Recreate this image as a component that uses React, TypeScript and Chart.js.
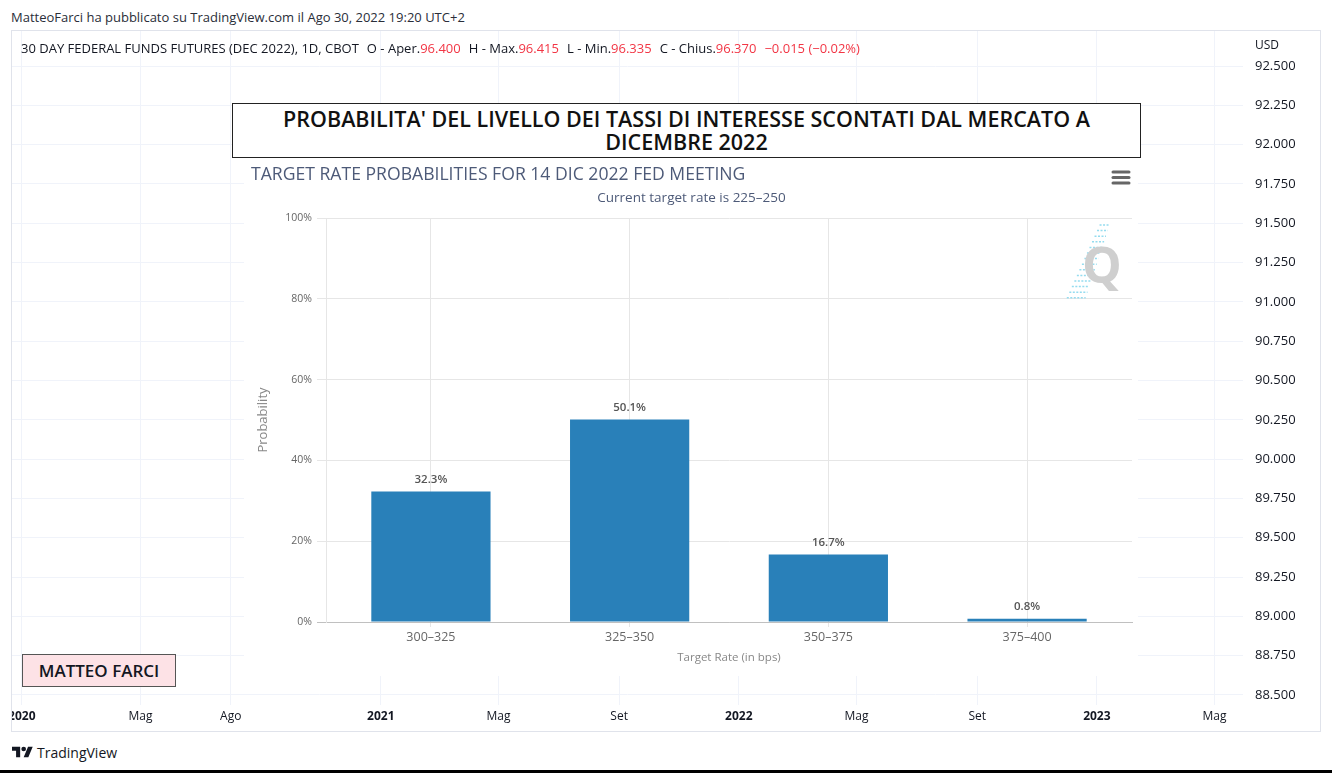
import React, { useEffect, useRef } from 'react';
import { Chart, registerables } from 'chart.js';

Chart.register(...registerables);

const FONT = "'Open Sans', 'DejaVu Sans', sans-serif";
Chart.defaults.font.family = FONT;

// ---------- FedWatch bar chart data ----------
const categories = ['300–325', '325–350', '350–375', '375–400'];
const probabilities = [32.3, 50.1, 16.7, 0.8];
const probabilityTicks = [0, 20, 40, 60, 80, 100];
const fedTitle = 'TARGET RATE PROBABILITIES FOR 14 DIC 2022 FED MEETING';
const fedSubtitle = 'Current target rate is 225–250';
const xAxisTitle = 'Target Rate (in bps)';
const yAxisTitle = 'Probability';

// ---------- TradingView background data ----------
const priceTicks = [88.5, 88.75, 89, 89.25, 89.5, 89.75, 90, 90.25, 90.5, 90.75, 91, 91.25, 91.5, 91.75, 92, 92.25, 92.5];
const priceRange = [88.436, 92.723];
const timeTickDates = ['2020-01-01', '2020-05-01', '2020-08-01', '2021-01-01', '2021-05-01', '2021-09-01', '2022-01-01', '2022-05-01', '2022-09-01', '2023-01-01', '2023-05-01'];
const timeTickLabels = ['2020', 'Mag', 'Ago', '2021', 'Mag', 'Set', '2022', 'Mag', 'Set', '2023', 'Mag'];
const timeRange = ['2019-12-22', '2023-05-30'];
const publishLine = 'MatteoFarci ha pubblicato su TradingView.com il Ago 30, 2022 19:20 UTC+2';
const symbolName = '30 DAY FEDERAL FUNDS FUTURES (DEC 2022), 1D, CBOT';
const ohlcLabels = ['O - Aper.', 'H - Max.', 'L - Min.', 'C - Chius.'];
const ohlcValues = ['96.400', '96.415', '96.335', '96.370'];
const changeText = '−0.015 (−0.02%)';
const currency = 'USD';
const bigTitleLines = ["PROBABILITA' DEL LIVELLO DEI TASSI DI INTERESSE SCONTATI DAL MERCATO A", 'DICEMBRE 2022'];
const signature = 'MATTEO FARCI';

const RED = '#f23645';
const TV_TEXT = '#131722';
const BAR_BLUE = '#2980b9';

const dayIndex = (iso: string) => (Date.parse(iso) - Date.parse('2020-01-01')) / 86400000;

function TvBackground() {
  const ref = useRef<HTMLCanvasElement>(null);
  useEffect(() => {
    const chart = new Chart(ref.current as HTMLCanvasElement, {
      type: 'scatter',
      data: { datasets: [{ data: [] }] },
      options: {
        animation: false,
        responsive: false,
        events: [],
        layout: { padding: 0 },
        plugins: { legend: { display: false }, tooltip: { enabled: false } },
        scales: {
          x: {
            type: 'linear',
            min: dayIndex(timeRange[0]),
            max: dayIndex(timeRange[1]),
            afterBuildTicks: (s: any) => {
              s.ticks = timeTickDates.map((d) => ({ value: dayIndex(d) }));
            },
            afterFit: (s: any) => {
              s.height = 26;
              s.paddingLeft = 0;
              s.paddingRight = 0;
            },
            grid: { color: '#f0f3fa', drawTicks: false },
            border: { display: false },
            ticks: {
              autoSkip: false,
              maxRotation: 0,
              padding: 4,
              color: TV_TEXT,
              font: (ctx: any) => ({
                family: FONT,
                size: 12,
                weight: /^\d{4}$/.test(timeTickLabels[ctx.index] || '') ? 'bold' : 'normal',
              }),
              callback: (_v: any, i: number) => timeTickLabels[i],
            },
          },
          y: {
            type: 'linear',
            position: 'right',
            min: priceRange[0],
            max: priceRange[1],
            afterBuildTicks: (s: any) => {
              s.ticks = priceTicks.map((v) => ({ value: v }));
            },
            afterFit: (s: any) => {
              s.width = 77;
              s.paddingTop = 0;
              s.paddingBottom = 0;
            },
            grid: { color: '#f0f3fa', drawTicks: false },
            border: { display: false },
            ticks: {
              padding: 12,
              color: TV_TEXT,
              font: { family: FONT, size: 13 },
              callback: (v: any) => Number(v).toFixed(3),
            },
          },
        },
      } as any,
    });
    return () => chart.destroy();
  }, []);
  return <canvas ref={ref} width={1308} height={700} style={{ position: 'absolute', left: 12, top: 31 }} />;
}

const valueLabels = {
  id: 'valueLabels',
  afterDatasetsDraw(chart: any) {
    const ctx = chart.ctx;
    const meta = chart.getDatasetMeta(0);
    ctx.save();
    ctx.font = `600 11.5px ${FONT}`;
    ctx.fillStyle = '#555555';
    ctx.textAlign = 'center';
    ctx.textBaseline = 'middle';
    meta.data.forEach((bar: any, i: number) => {
      ctx.fillText(probabilities[i].toFixed(1) + '%', bar.x, bar.y - 12);
    });
    ctx.restore();
  },
};

const decorations = {
  id: 'decorations',
  afterDraw(chart: any) {
    const ctx = chart.ctx;
    ctx.save();
    // menu icon
    ctx.strokeStyle = '#666666';
    ctx.lineWidth = 3;
    ctx.lineCap = 'round';
    [15, 20.5, 26].forEach((y) => {
      ctx.beginPath();
      ctx.moveTo(869, y);
      ctx.lineTo(885, y);
      ctx.stroke();
    });
    // watermark speed lines (canvas coords = page - (244, 157))
    ctx.strokeStyle = '#95dcef';
    ctx.lineWidth = 1.5;
    ctx.lineCap = 'butt';
    ctx.setLineDash([2, 1.5]);
    for (let k = 0; k < 14; k++) {
      const y = 68 + k * 5.6;
      const left = 856 - (y - 67) * 0.45;
      const right = left + 10 + (y - 67) * 0.12;
      ctx.beginPath();
      ctx.moveTo(left, y);
      ctx.lineTo(right, y);
      ctx.stroke();
    }
    ctx.setLineDash([]);
    // watermark Q
    ctx.font = `bold 50px ${FONT}`;
    ctx.fillStyle = '#cfcfcf';
    ctx.textAlign = 'center';
    ctx.textBaseline = 'alphabetic';
    ctx.fillText('Q', 858, 126);
    ctx.restore();
  },
};

function FedWatchChart() {
  const ref = useRef<HTMLCanvasElement>(null);
  useEffect(() => {
    const chart = new Chart(ref.current as HTMLCanvasElement, {
      type: 'bar',
      data: {
        datasets: [
          {
            data: categories.map((_c, i) => ({ x: i, y: probabilities[i] })),
            backgroundColor: BAR_BLUE,
            borderWidth: 0,
            barPercentage: 0.6,
            categoryPercentage: 1,
          },
        ],
      },
      options: {
        animation: false,
        responsive: false,
        events: [],
        layout: { padding: { left: 7, right: 6, top: 0, bottom: 0 } },
        plugins: {
          legend: { display: false },
          tooltip: { enabled: false },
          title: {
            display: true,
            text: fedTitle,
            align: 'start',
            color: '#4d5a78',
            font: { family: FONT, size: 17.6, weight: 'normal', lineHeight: 1.2 },
            padding: { top: 7.4, bottom: 0 },
          },
          subtitle: {
            display: true,
            text: fedSubtitle,
            color: '#4d5a78',
            font: { family: FONT, size: 13.5, lineHeight: 1.2 },
            padding: { top: 4.4, bottom: 11.88 },
          },
        },
        scales: {
          x: {
            type: 'linear',
            min: -0.528,
            max: 3.528,
            offset: false,
            afterBuildTicks: (s: any) => {
              s.ticks = categories.map((_c, i) => ({ value: i }));
            },
            afterFit: (s: any) => {
              s.height = 54;
              s.paddingLeft = 0;
              s.paddingRight = 0;
            },
            grid: { color: '#e6e6e6', tickLength: 5, offset: false },
            border: { color: '#c0c0c0' },
            ticks: {
              autoSkip: false,
              maxRotation: 0,
              padding: 3,
              color: '#666666',
              font: { family: FONT, size: 12.5 },
              callback: (_v: any, i: number) => categories[i],
            },
            title: {
              display: true,
              text: xAxisTitle,
              color: '#888888',
              font: { family: FONT, size: 11.5, lineHeight: 1.2 },
              padding: { top: 0, bottom: 11.1 },
            },
          },
          y: {
            type: 'linear',
            min: 0,
            max: 100,
            afterBuildTicks: (s: any) => {
              s.ticks = probabilityTicks.map((v) => ({ value: v }));
            },
            afterFit: (s: any) => {
              s.width = 75;
            },
            grid: {
              color: (ctx: any) => (ctx.tick && ctx.tick.value === 0 ? '#c0c0c0' : '#e6e6e6'),
              tickLength: 9,
            },
            border: { display: true, color: '#e6e6e6' },
            ticks: {
              padding: 5,
              color: '#666666',
              font: { family: FONT, size: 10.5 },
              callback: (v: any) => v + '%',
            },
            title: {
              display: true,
              text: yAxisTitle,
              color: '#888888',
              font: { family: FONT, size: 13, lineHeight: 1.2 },
              padding: { top: 4.2, bottom: 0 },
            },
          },
        },
      } as any,
      plugins: [valueLabels, decorations],
    });
    return () => chart.destroy();
  }, []);
  return (
    <div style={{ position: 'absolute', left: 244, top: 157, width: 894, height: 519, background: '#ffffff' }}>
      <canvas ref={ref} width={894} height={519} />
    </div>
  );
}

export default function App() {
  return (
    <div
      style={{
        position: 'absolute',
        left: 0,
        top: 0,
        width: 1332,
        height: 773,
        background: '#ffffff',
        overflow: 'hidden',
        fontFamily: FONT,
        color: TV_TEXT,
      }}
    >
      <div style={{ position: 'absolute', left: 11, top: 8, fontSize: 13, lineHeight: '18px', color: '#2a2e39', whiteSpace: 'nowrap' }}>
        {publishLine}
      </div>

      <div
        style={{
          position: 'absolute',
          left: 11,
          top: 30,
          width: 1310,
          height: 702,
          border: '1px solid #e0e3eb',
          boxSizing: 'border-box',
        }}
      />
      <TvBackground />

      <div style={{ position: 'absolute', left: 21, top: 39, fontSize: 13, lineHeight: '18px', whiteSpace: 'nowrap', color: TV_TEXT }}>
        {symbolName}
        {ohlcLabels.map((l, i) => (
          <span key={i} style={{ marginLeft: 8 }}>
            {l}
            <span style={{ color: RED }}>{ohlcValues[i]}</span>
          </span>
        ))}
        <span style={{ color: RED, marginLeft: 8 }}>{changeText}</span>
      </div>
      <div style={{ position: 'absolute', left: 1255, top: 36, fontSize: 12, lineHeight: '18px', color: TV_TEXT }}>{currency}</div>

      <FedWatchChart />

      <div
        style={{
          position: 'absolute',
          left: 232,
          top: 103,
          width: 909,
          height: 55,
          boxSizing: 'border-box',
          border: '1px solid #222222',
          background: '#ffffff',
          textAlign: 'center',
          fontSize: 21.5,
          fontWeight: 600,
          lineHeight: '23px',
          paddingTop: 3,
          color: '#111111',
          whiteSpace: 'nowrap',
        }}
      >
        {bigTitleLines[0]}
        <br />
        {bigTitleLines[1]}
      </div>

      <div
        style={{
          position: 'absolute',
          left: 22,
          top: 654,
          width: 154,
          height: 33,
          boxSizing: 'border-box',
          border: '1px solid #555555',
          background: '#fde2e6',
          textAlign: 'center',
          fontSize: 17,
          fontWeight: 600,
          lineHeight: '31px',
          color: '#131722',
          whiteSpace: 'nowrap',
        }}
      >
        {signature}
      </div>

      <div style={{ position: 'absolute', left: 12, top: 744, display: 'flex', alignItems: 'center', height: 17 }}>
        <svg width="21" height="17" viewBox="0 0 36 28">
          <path d="M14 22H7V11H0V4h14v18zM28 22h-8l7.5-18h8L28 22z" fill="#131722" />
          <circle cx="20" cy="8" r="4" fill="#131722" />
        </svg>
        <span style={{ marginLeft: 4, fontSize: 14, color: TV_TEXT, lineHeight: '17px' }}>TradingView</span>
      </div>

      <div style={{ position: 'absolute', left: 0, top: 770, width: 1332, height: 3, background: '#000000' }} />
    </div>
  );
}
